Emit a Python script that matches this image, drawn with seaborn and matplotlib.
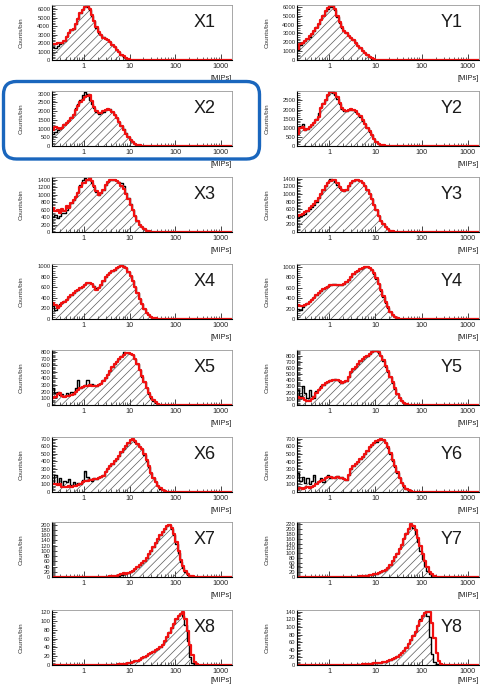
import numpy as np
import matplotlib
matplotlib.use("Agg")
import matplotlib.pyplot as plt
from matplotlib.patches import FancyBboxPatch
from matplotlib.ticker import LogLocator, MultipleLocator, NullFormatter
import seaborn as sns

sns.set_style("white")
plt.rcParams["font.family"] = ["Liberation Sans", "DejaVu Sans"]
plt.rcParams["hatch.linewidth"] = 0.5

# Energy bins: 20 per decade starting at 0.2 MIP
BIN_EDGES = 0.2 * 10 ** (np.arange(81) / 20)

# Counts per bin (from the first bin upward), data (black, hatched) and simulation (red)
X1_DATA = [1500, 1400, 1600, 1900, 2000, 2300, 2800, 3300, 3600, 3700, 4300, 5000, 5500, 6000, 6400, 6300, 5900, 5200, 4600, 3800,
           3200, 2900, 2700, 2500, 2400, 2100, 1800, 1500, 1200, 900, 650, 400, 220, 110, 50, 25, 10, 5, 2]
X1_MC = [1850, 1900, 2000, 2000, 2050, 2300, 2700, 3200, 3500, 3700, 4200, 4900, 5500, 5900, 6300, 6400, 6000, 5300, 4600, 3900,
         3300, 2900, 2650, 2450, 2350, 2100, 1800, 1550, 1200, 950, 650, 420, 230, 110, 55, 25, 10, 5, 2]
Y1_DATA = [1100, 1700, 1900, 2100, 2400, 2600, 2900, 3300, 3700, 4100, 4600, 5100, 5500, 5800, 6000, 6050, 5600, 4900, 4200, 3600,
           3300, 3000, 2700, 2450, 2200, 1900, 1600, 1300, 1000, 750, 550, 330, 160, 70, 25, 8, 3]
Y1_MC = [1200, 1800, 1950, 2150, 2400, 2650, 2950, 3300, 3650, 4100, 4550, 5000, 5500, 5850, 6050, 6100, 5700, 5000, 4300, 3700,
         3300, 3000, 2700, 2450, 2200, 1900, 1600, 1300, 1020, 760, 560, 340, 170, 75, 25, 8, 3]

X2_DATA = [700, 800, 900, 950, 1100, 1250, 1350, 1500, 1650, 1850, 2150, 2400, 2650, 2900, 3100, 2950, 2650, 2400, 2150, 1950,
           1850, 1900, 1950, 2050, 2100, 2100, 1950, 1800, 1600, 1400, 1150, 950, 720, 500, 350, 220, 130, 60, 25, 10, 3]
X2_MC = [900, 1100, 1050, 1000, 1050, 1200, 1300, 1450, 1600, 1800, 2050, 2300, 2500, 2650, 2800, 2880, 2900, 2600, 2250, 2000,
         1870, 1900, 1980, 2050, 2100, 2080, 1950, 1780, 1580, 1380, 1150, 930, 700, 500, 350, 220, 130, 65, 30, 12, 4]
Y2_DATA = [700, 1100, 1200, 900, 950, 1050, 1150, 1300, 1500, 1800, 2150, 2350, 2550, 2800, 2950, 2900, 2800, 2600, 2300, 2050,
           1900, 1920, 1950, 2000, 1980, 1880, 1750, 1600, 1400, 1200, 1000, 780, 580, 380, 220, 120, 60, 25, 8, 2]
Y2_MC = [650, 1000, 1050, 900, 950, 1030, 1150, 1280, 1450, 1600, 2100, 2300, 2550, 2800, 2950, 2980, 2900, 2700, 2350, 2100,
         1950, 1930, 1950, 2020, 2000, 1900, 1780, 1620, 1420, 1230, 1000, 800, 590, 390, 230, 130, 65, 30, 10, 3]

X3_DATA = [400, 450, 380, 420, 500, 520, 600, 680, 780, 850, 950, 1060, 1250, 1380, 1450, 1400, 1380, 1300, 1200, 1080,
           1000, 1040, 1120, 1250, 1340, 1390, 1400, 1390, 1370, 1340, 1300, 1220, 1050, 900, 750, 600, 430, 300, 200, 130,
           75, 40, 18, 7, 2]
X3_MC = [650, 550, 600, 500, 620, 560, 700, 650, 780, 850, 930, 1030, 1200, 1300, 1320, 1400, 1440, 1350, 1220, 1100,
         1000, 1050, 1120, 1260, 1340, 1390, 1400, 1380, 1360, 1320, 1240, 1150, 1020, 880, 730, 590, 420, 300, 200, 130,
         75, 40, 18, 7, 2]
Y3_DATA = [380, 420, 450, 480, 550, 600, 650, 720, 800, 900, 1000, 1100, 1200, 1320, 1400, 1380, 1330, 1250, 1170, 1100,
           1080, 1120, 1200, 1280, 1340, 1370, 1370, 1340, 1290, 1220, 1120, 1000, 860, 720, 570, 430, 300, 200, 120, 70,
           35, 15, 5]
Y3_MC = [420, 450, 480, 520, 560, 620, 680, 740, 820, 900, 1000, 1100, 1200, 1300, 1350, 1380, 1360, 1280, 1180, 1110,
         1080, 1120, 1200, 1280, 1340, 1370, 1370, 1340, 1290, 1220, 1120, 1000, 860, 720, 570, 430, 300, 200, 120, 70,
         35, 15, 5]

X4_DATA = [250, 180, 220, 280, 300, 340, 380, 420, 460, 500, 530, 560, 590, 620, 660, 680, 690, 670, 620, 580,
           600, 650, 720, 800, 850, 890, 910, 940, 970, 1000, 1030, 1000, 960, 900, 820, 720, 610, 500, 380, 280,
           190, 120, 70, 45, 25, 10, 4]
X4_MC = [300, 260, 200, 250, 300, 330, 360, 410, 450, 500, 530, 550, 580, 610, 650, 680, 680, 660, 600, 560,
         590, 640, 720, 790, 840, 880, 910, 940, 970, 990, 1000, 990, 960, 900, 820, 720, 610, 500, 380, 280,
         190, 120, 70, 45, 25, 10, 4]
Y4_DATA = [200, 180, 220, 260, 300, 340, 380, 420, 460, 500, 540, 580, 610, 630, 650, 660, 660, 650, 640, 640,
           660, 700, 750, 800, 850, 890, 920, 950, 980, 1000, 1000, 980, 930, 860, 770, 660, 540, 420, 310, 210,
           135, 80, 42, 20, 8, 3]
Y4_MC = [260, 240, 240, 260, 290, 330, 370, 410, 450, 490, 530, 570, 600, 620, 640, 650, 655, 650, 640, 640,
         660, 700, 750, 800, 850, 890, 920, 950, 970, 990, 1000, 980, 940, 870, 780, 670, 550, 430, 320, 220,
         140, 85, 45, 22, 9, 3]

X5_DATA = [250, 180, 200, 150, 170, 140, 180, 160, 200, 170, 260, 380, 260, 270, 300, 380, 300, 310, 300, 290,
           310, 330, 370, 410, 470, 520, 580, 620, 660, 690, 740, 800, 790, 780, 770, 750, 700, 620, 530, 430,
           340, 250, 170, 110, 65, 35, 15, 6, 2]
X5_MC = [100, 120, 170, 180, 130, 120, 130, 140, 150, 170, 200, 230, 250, 270, 285, 290, 300, 290, 290, 290,
         300, 320, 360, 400, 460, 520, 570, 620, 650, 690, 730, 760, 780, 780, 770, 750, 700, 620, 530, 440,
         350, 260, 180, 115, 70, 38, 18, 7, 2]
Y5_DATA = [250, 150, 300, 200, 120, 250, 150, 120, 220, 260, 300, 330, 350, 380, 400, 410, 420, 400, 380, 360,
           370, 390, 450, 540, 580, 620, 660, 710, 740, 770, 790, 830, 860, 870, 880, 840, 790, 720, 620, 540,
           450, 360, 260, 175, 110, 60, 25, 10, 3]
Y5_MC = [130, 120, 110, 80, 70, 70, 90, 130, 190, 240, 280, 320, 350, 370, 390, 400, 410, 410, 390, 360,
         370, 390, 450, 540, 580, 620, 660, 710, 740, 770, 790, 830, 860, 875, 880, 850, 800, 730, 630, 550,
         460, 370, 270, 185, 115, 65, 28, 11, 3]

X6_DATA = [120, 220, 100, 180, 80, 150, 130, 170, 90, 130, 100, 120, 110, 160, 280, 200, 170, 150, 180, 170,
           190, 200, 220, 270, 310, 340, 370, 400, 430, 470, 525, 565, 600, 640, 680, 690, 660, 630, 595, 560,
           490, 410, 330, 250, 180, 125, 80, 45, 25, 12, 5, 2]
X6_MC = [110, 100, 90, 110, 60, 70, 60, 80, 70, 80, 80, 90, 100, 130, 150, 150, 155, 160, 170, 175,
         185, 195, 210, 260, 300, 340, 370, 400, 430, 470, 520, 565, 600, 640, 680, 695, 665, 630, 595, 560,
         495, 415, 335, 255, 185, 130, 85, 48, 26, 13, 5, 2]
Y6_DATA = [250, 150, 200, 120, 180, 100, 150, 220, 120, 150, 180, 130, 200, 220, 180, 200, 190, 210, 180, 200,
           170, 160, 230, 300, 340, 375, 400, 430, 460, 500, 545, 590, 615, 640, 665, 690, 700, 680, 640, 580,
           500, 410, 330, 250, 180, 120, 70, 38, 18, 8, 3, 1]
Y6_MC = [40, 50, 40, 50, 60, 50, 60, 80, 100, 130, 150, 160, 190, 200, 195, 190, 190, 195, 190, 180,
         170, 160, 230, 300, 340, 375, 400, 430, 460, 500, 545, 590, 615, 645, 670, 690, 705, 690, 650, 590,
         510, 420, 340, 260, 190, 125, 75, 40, 20, 9, 3, 1]

X7_DATA = [0, 0, 0, 0, 0, 0, 0, 0, 0, 0, 0, 0, 0, 0, 0, 0, 0, 0, 0, 0, 0, 0,
           1, 1, 2, 1, 2, 3, 3, 5, 8, 10, 12, 15, 19, 24, 31, 38, 46, 54, 62, 74, 86, 100, 115, 130,
           147, 160, 172, 183, 193, 198, 185, 160, 125, 90, 58, 34, 18, 8, 3, 1]
X7_MC = [0, 0, 0, 0, 0, 0, 0, 0, 0, 0, 0, 0, 0, 0, 0, 0, 0, 0, 0, 0, 0, 0, 0,
         1, 1, 2, 2, 3, 4, 6, 12, 14, 13, 16, 19, 24, 31, 38, 46, 54, 62, 74, 86, 100, 115, 130,
         147, 160, 172, 183, 193, 200, 188, 165, 132, 98, 66, 42, 24, 12, 5, 2, 1]
Y7_DATA = [0, 0, 0, 0, 0, 0, 0, 0, 0, 0, 0, 0, 0, 0, 0, 0, 0, 0, 0, 0, 0, 0,
           1, 1, 2, 2, 3, 4, 5, 6, 7, 8, 10, 11, 13, 16, 20, 25, 32, 40, 50, 68, 85, 102, 120, 140,
           165, 185, 205, 220, 205, 180, 145, 110, 75, 45, 25, 12, 5, 2]
Y7_MC = [0, 0, 0, 0, 0, 0, 0, 0, 0, 0, 0, 0, 0, 0, 0, 0, 0, 0, 0, 0, 0, 0, 0,
         1, 1, 2, 2, 3, 4, 5, 6, 8, 9, 11, 13, 16, 20, 25, 31, 39, 49, 65, 82, 98, 116, 135,
         158, 180, 200, 222, 215, 195, 165, 130, 95, 65, 40, 22, 11, 5, 2, 1]

X8_DATA = [0, 0, 0, 0, 0, 0, 0, 0, 0, 0, 0, 0, 0, 0, 0, 0, 0, 0, 0, 0, 0, 0, 0, 0, 0,
           1, 2, 1, 2, 1, 2, 3, 3, 4, 5, 6, 8, 10, 13, 16, 19, 22, 25, 28, 31, 34, 37, 41, 47,
           55, 64, 74, 84, 95, 105, 113, 118, 112, 92, 55, 18, 4, 1]
X8_MC = [0, 0, 0, 0, 0, 0, 0, 0, 0, 0, 0, 0, 0, 0, 0, 0, 0, 0, 0, 0, 0, 0, 0, 0, 0, 0, 0,
         1, 1, 2, 2, 3, 3, 4, 5, 6, 8, 10, 12, 15, 18, 21, 24, 27, 30, 33, 36, 40, 46,
         54, 63, 73, 83, 94, 104, 112, 117, 120, 105, 78, 45, 22, 7, 2]
Y8_DATA = [0, 0, 0, 0, 0, 0, 0, 0, 0, 0, 0, 0, 0, 0, 0, 0, 0, 0, 0, 0, 0, 0,
           1, 0, 1, 1, 2, 1, 2, 2, 3, 3, 3, 4, 4, 5, 6, 7, 9, 11, 13, 15, 19, 23, 28, 33, 39, 47,
           57, 67, 78, 90, 105, 120, 133, 140, 128, 75, 30, 8, 2]
Y8_MC = [0, 0, 0, 0, 0, 0, 0, 0, 0, 0, 0, 0, 0, 0, 0, 0, 0, 0, 0, 0, 0, 0, 0, 0,
         1, 1, 1, 1, 2, 2, 2, 3, 3, 4, 4, 5, 6, 7, 9, 11, 13, 15, 18, 22, 27, 32, 38, 45,
         55, 65, 76, 88, 102, 116, 128, 136, 140, 141, 110, 70, 32, 10, 3, 1]

X_NAMES = ["X1", "X2", "X3", "X4", "X5", "X6", "X7", "X8"]
Y_NAMES = ["Y1", "Y2", "Y3", "Y4", "Y5", "Y6", "Y7", "Y8"]
X_SERIES = [(X1_DATA, X1_MC), (X2_DATA, X2_MC), (X3_DATA, X3_MC), (X4_DATA, X4_MC),
            (X5_DATA, X5_MC), (X6_DATA, X6_MC), (X7_DATA, X7_MC), (X8_DATA, X8_MC)]
Y_SERIES = [(Y1_DATA, Y1_MC), (Y2_DATA, Y2_MC), (Y3_DATA, Y3_MC), (Y4_DATA, Y4_MC),
            (Y5_DATA, Y5_MC), (Y6_DATA, Y6_MC), (Y7_DATA, Y7_MC), (Y8_DATA, Y8_MC)]

# y-axis: upper limit, tick step and last labelled tick
X_YMAX = [6500, 3150, 1470, 1045, 830, 720, 210, 125]
X_YSTEP = [1000, 500, 200, 200, 100, 100, 20, 20]
X_YLAST = [6000, 3000, 1400, 1000, 800, 700, 200, 120]
Y_YMAX = [6200, 3020, 1450, 1050, 890, 725, 230, 145]
Y_YSTEP = [1000, 500, 200, 200, 100, 100, 20, 20]
Y_YLAST = [6000, 2500, 1400, 1000, 800, 700, 220, 140]

X_TICKS = [1, 10, 100, 1000]
X_TICK_LABELS = ["1", "10", "100", "1000"]
X_UNIT = "[MIPs]"
Y_TITLE = "Counts/bin"

FIG_W, FIG_H = 481, 685
ROW_TOPS = [5, 91, 177, 264, 350, 437, 522, 610]
AX_H = 55
COLS = [(52, 180), (297, 182)]

fig = plt.figure(figsize=(FIG_W / 100, FIG_H / 100), dpi=100)
fig.patch.set_facecolor("white")

centers = np.sqrt(BIN_EDGES[:-1] * BIN_EDGES[1:])
log_bins = np.log10(BIN_EDGES).tolist()
nbins = len(centers)


def full(values):
    out = np.zeros(nbins)
    out[:len(values)] = values
    return out


def panel(ax, name, data, mc, ymax, ystep, ylast, ylab_x, unit_y):
    d = full(data)
    m = full(mc)
    sns.histplot(x=centers, weights=d, bins=log_bins, log_scale=True, element="step",
                 fill=True, color="#5a5a5a", facecolor="none", edgecolor="#5a5a5a",
                 linewidth=0, hatch="////", ax=ax)
    sns.histplot(x=centers, weights=d, bins=log_bins, log_scale=True, element="step",
                 fill=False, color="black", linewidth=1.0, ax=ax)
    sns.histplot(x=centers, weights=m, bins=log_bins, log_scale=True, element="step",
                 fill=False, color="#f01010", linewidth=1.6, ax=ax)

    ax.set_xlim(0.2, 1750)
    ax.set_ylim(0, ymax)
    ax.set_xlabel("")
    ax.set_ylabel("")
    ax.set_xticks(X_TICKS)
    ax.set_xticklabels(X_TICK_LABELS)
    ax.xaxis.set_minor_locator(LogLocator(base=10, subs=np.arange(2, 10)))
    ax.xaxis.set_minor_formatter(NullFormatter())
    yt = np.arange(0, ylast + 1, ystep)
    ax.set_yticks(yt)
    ax.set_yticklabels([str(v) for v in yt])
    ax.yaxis.set_minor_locator(MultipleLocator(ystep / 5))
    ax.tick_params(axis="x", which="major", direction="in", length=4, width=0.6,
                   labelsize=5.2, pad=2, bottom=True)
    ax.tick_params(axis="x", which="minor", direction="in", length=2, width=0.5, bottom=True)
    ax.tick_params(axis="y", which="major", direction="in", length=3.5, width=0.6,
                   labelsize=4.2, pad=1.2, left=True)
    ax.tick_params(axis="y", which="minor", direction="in", length=1.8, width=0.5, left=True)
    for s in ("left", "bottom"):
        ax.spines[s].set_color("black")
        ax.spines[s].set_linewidth(0.8)
    for s in ("top", "right"):
        ax.spines[s].set_color("#999999")
        ax.spines[s].set_linewidth(0.6)
    ax.text(0.85, 0.69, name, transform=ax.transAxes, ha="center", va="center",
            fontsize=13, color="#1a1a1a")
    ax.text(1.0, unit_y, X_UNIT, transform=ax.transAxes, ha="right", va="center",
            fontsize=5.4, color="#222222")
    ax.text(ylab_x, 0.5, Y_TITLE, transform=ax.transAxes, ha="center", va="center",
            rotation=90, fontsize=4.6, color="#333333")


for col, (names, series, ymaxs, ysteps, ylasts) in enumerate([
        (X_NAMES, X_SERIES, X_YMAX, X_YSTEP, X_YLAST),
        (Y_NAMES, Y_SERIES, Y_YMAX, Y_YSTEP, Y_YLAST)]):
    left, width = COLS[col]
    for row in range(8):
        top = ROW_TOPS[row]
        ax = fig.add_axes([left / FIG_W, 1 - (top + AX_H) / FIG_H, width / FIG_W, AX_H / FIG_H])
        data, mc = series[row]
        ylab_x = (20.7 - 52) / 180 if col == 0 else (266.7 - 297) / 182
        unit_y = -0.34 if row < 7 else -0.28
        panel(ax, names[row], data, mc, ymaxs[row], ysteps[row], ylasts[row], ylab_x, unit_y)

# Rounded highlight frame around the X2 panel
box = FancyBboxPatch((0.035, (FIG_H - 159) / 100), 2.56, 0.775,
                     boxstyle="round,pad=0,rounding_size=0.13",
                     transform=fig.dpi_scale_trans, fill=False,
                     edgecolor="#1a66bd", linewidth=2.4)
fig.add_artist(box)

fig.savefig("out.png", dpi=100, facecolor="white")
